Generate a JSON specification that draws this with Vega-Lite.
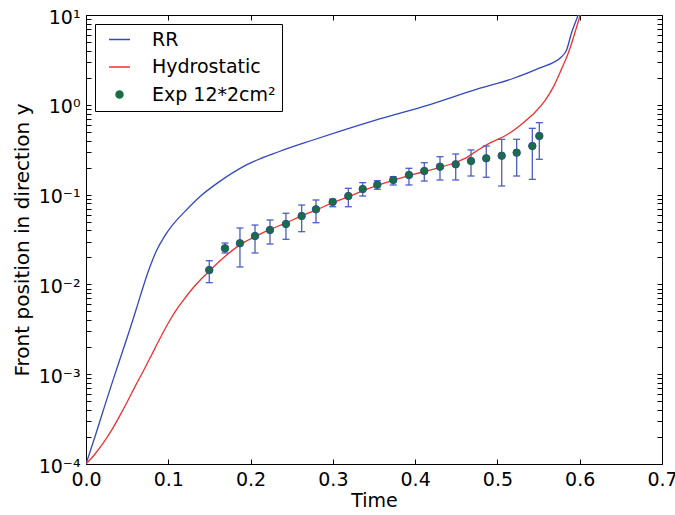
{
  "$schema": "https://vega.github.io/schema/vega-lite/v6.json",
  "width": 576,
  "height": 449,
  "autosize": {"type": "none"},
  "padding": {"left": 86, "top": 15, "right": 13, "bottom": 51},
  "background": "white",
  "config": {
    "view": {"stroke": null},
    "font": "DejaVu Sans",
    "axis": {
      "grid": false,
      "domainColor": "black",
      "domainWidth": 1,
      "tickColor": "black",
      "tickWidth": 1,
      "labelColor": "black",
      "labelFont": "DejaVu Sans",
      "labelFontSize": 19,
      "titleColor": "black",
      "titleFont": "DejaVu Sans",
      "titleFontWeight": "normal",
      "labelOverlap": false,
      "labelFlush": false
    },
    "legend": {
      "orient": "none",
      "legendX": 9,
      "legendY": 9,
      "strokeColor": "black",
      "fillColor": "white",
      "padding": 6,
      "cornerRadius": 0,
      "labelFont": "DejaVu Sans",
      "labelFontSize": 19,
      "labelColor": "black",
      "symbolSize": 49,
      "symbolStrokeWidth": 1.5,
      "symbolOffset": 9,
      "labelOffset": 23,
      "rowPadding": 7.5,
      "titleFontSize": 0
    }
  },
  "datasets": {
    "curves": [
      {"series": "RR", "t": 0, "y": 0.0001},
      {"series": "RR", "t": 0.01, "y": 0.00019},
      {"series": "RR", "t": 0.02, "y": 0.00037},
      {"series": "RR", "t": 0.033, "y": 0.00087},
      {"series": "RR", "t": 0.045, "y": 0.00186},
      {"series": "RR", "t": 0.0575, "y": 0.00417},
      {"series": "RR", "t": 0.0636, "y": 0.00631},
      {"series": "RR", "t": 0.0697, "y": 0.00955},
      {"series": "RR", "t": 0.0775, "y": 0.0155},
      {"series": "RR", "t": 0.0859, "y": 0.024},
      {"series": "RR", "t": 0.095, "y": 0.0339},
      {"series": "RR", "t": 0.106, "y": 0.0468},
      {"series": "RR", "t": 0.12, "y": 0.0646},
      {"series": "RR", "t": 0.14, "y": 0.0977},
      {"series": "RR", "t": 0.16, "y": 0.135},
      {"series": "RR", "t": 0.195, "y": 0.214},
      {"series": "RR", "t": 0.235, "y": 0.302},
      {"series": "RR", "t": 0.275, "y": 0.403},
      {"series": "RR", "t": 0.31, "y": 0.513},
      {"series": "RR", "t": 0.352, "y": 0.676},
      {"series": "RR", "t": 0.417, "y": 1.0},
      {"series": "RR", "t": 0.477, "y": 1.51},
      {"series": "RR", "t": 0.518, "y": 1.95},
      {"series": "RR", "t": 0.55, "y": 2.54},
      {"series": "RR", "t": 0.578, "y": 3.43},
      {"series": "RR", "t": 0.584, "y": 4.07},
      {"series": "RR", "t": 0.59, "y": 6.31},
      {"series": "RR", "t": 0.598, "y": 10},
      {"series": "RR", "t": 0.602, "y": 13.2},
      {"series": "Hydrostatic", "t": 0, "y": 0.0001},
      {"series": "Hydrostatic", "t": 0.01, "y": 0.000126},
      {"series": "Hydrostatic", "t": 0.02, "y": 0.000166},
      {"series": "Hydrostatic", "t": 0.03, "y": 0.000229},
      {"series": "Hydrostatic", "t": 0.04, "y": 0.000331},
      {"series": "Hydrostatic", "t": 0.05, "y": 0.00049},
      {"series": "Hydrostatic", "t": 0.06, "y": 0.000741},
      {"series": "Hydrostatic", "t": 0.07, "y": 0.0011},
      {"series": "Hydrostatic", "t": 0.08, "y": 0.00166},
      {"series": "Hydrostatic", "t": 0.09, "y": 0.00251},
      {"series": "Hydrostatic", "t": 0.1, "y": 0.00372},
      {"series": "Hydrostatic", "t": 0.11, "y": 0.00525},
      {"series": "Hydrostatic", "t": 0.118, "y": 0.00661},
      {"series": "Hydrostatic", "t": 0.13, "y": 0.00912},
      {"series": "Hydrostatic", "t": 0.14, "y": 0.01148},
      {"series": "Hydrostatic", "t": 0.15, "y": 0.01413},
      {"series": "Hydrostatic", "t": 0.165, "y": 0.01905},
      {"series": "Hydrostatic", "t": 0.187, "y": 0.02754},
      {"series": "Hydrostatic", "t": 0.205, "y": 0.03388},
      {"series": "Hydrostatic", "t": 0.223, "y": 0.04074},
      {"series": "Hydrostatic", "t": 0.242, "y": 0.04786},
      {"series": "Hydrostatic", "t": 0.261, "y": 0.05754},
      {"series": "Hydrostatic", "t": 0.28, "y": 0.06761},
      {"series": "Hydrostatic", "t": 0.3, "y": 0.08128},
      {"series": "Hydrostatic", "t": 0.32, "y": 0.0955},
      {"series": "Hydrostatic", "t": 0.344, "y": 0.1175},
      {"series": "Hydrostatic", "t": 0.37, "y": 0.1413},
      {"series": "Hydrostatic", "t": 0.4, "y": 0.1698},
      {"series": "Hydrostatic", "t": 0.425, "y": 0.195},
      {"series": "Hydrostatic", "t": 0.45, "y": 0.2291},
      {"series": "Hydrostatic", "t": 0.46, "y": 0.2512},
      {"series": "Hydrostatic", "t": 0.477, "y": 0.3162},
      {"series": "Hydrostatic", "t": 0.49, "y": 0.3715},
      {"series": "Hydrostatic", "t": 0.514, "y": 0.4786},
      {"series": "Hydrostatic", "t": 0.534, "y": 0.6607},
      {"series": "Hydrostatic", "t": 0.546, "y": 0.8318},
      {"series": "Hydrostatic", "t": 0.558, "y": 1.122},
      {"series": "Hydrostatic", "t": 0.568, "y": 1.585},
      {"series": "Hydrostatic", "t": 0.578, "y": 2.512},
      {"series": "Hydrostatic", "t": 0.585, "y": 3.548},
      {"series": "Hydrostatic", "t": 0.59, "y": 4.786},
      {"series": "Hydrostatic", "t": 0.596, "y": 7.244},
      {"series": "Hydrostatic", "t": 0.6, "y": 9.55},
      {"series": "Hydrostatic", "t": 0.604, "y": 12.59}
    ],
    "exp": [
      {"series": "Exp 12*2cm²", "t": 0.1498, "y": 0.01445, "lo": 0.01045, "hi": 0.01837},
      {"series": "Exp 12*2cm²", "t": 0.1689, "y": 0.02523, "lo": 0.02239, "hi": 0.0289},
      {"series": "Exp 12*2cm²", "t": 0.1871, "y": 0.02871, "lo": 0.01563, "hi": 0.04246},
      {"series": "Exp 12*2cm²", "t": 0.2054, "y": 0.0346, "lo": 0.02239, "hi": 0.04581},
      {"series": "Exp 12*2cm²", "t": 0.2236, "y": 0.04036, "lo": 0.02818, "hi": 0.05212},
      {"series": "Exp 12*2cm²", "t": 0.243, "y": 0.0471, "lo": 0.03177, "hi": 0.06194},
      {"series": "Exp 12*2cm²", "t": 0.2621, "y": 0.05781, "lo": 0.03864, "hi": 0.07656},
      {"series": "Exp 12*2cm²", "t": 0.2795, "y": 0.06855, "lo": 0.04864, "hi": 0.0871},
      {"series": "Exp 12*2cm²", "t": 0.2998, "y": 0.08279, "lo": 0.07328, "hi": 0.08872},
      {"series": "Exp 12*2cm²", "t": 0.3188, "y": 0.09638, "lo": 0.07328, "hi": 0.1175},
      {"series": "Exp 12*2cm²", "t": 0.3363, "y": 0.1153, "lo": 0.09638, "hi": 0.1358},
      {"series": "Exp 12*2cm²", "t": 0.354, "y": 0.1288, "lo": 0.1146, "hi": 0.1429},
      {"series": "Exp 12*2cm²", "t": 0.3734, "y": 0.1455, "lo": 0.1279, "hi": 0.1583},
      {"series": "Exp 12*2cm²", "t": 0.3925, "y": 0.1652, "lo": 0.1279, "hi": 0.1963},
      {"series": "Exp 12*2cm²", "t": 0.4111, "y": 0.1832, "lo": 0.1416, "hi": 0.2265},
      {"series": "Exp 12*2cm²", "t": 0.4302, "y": 0.2046, "lo": 0.1455, "hi": 0.2642},
      {"series": "Exp 12*2cm²", "t": 0.4493, "y": 0.2175, "lo": 0.1455, "hi": 0.2831},
      {"series": "Exp 12*2cm²", "t": 0.4679, "y": 0.2366, "lo": 0.1611, "hi": 0.3141},
      {"series": "Exp 12*2cm²", "t": 0.4864, "y": 0.2535, "lo": 0.156, "hi": 0.3475},
      {"series": "Exp 12*2cm²", "t": 0.5052, "y": 0.271, "lo": 0.1247, "hi": 0.413},
      {"series": "Exp 12*2cm²", "t": 0.5234, "y": 0.2931, "lo": 0.1611, "hi": 0.413},
      {"series": "Exp 12*2cm²", "t": 0.5424, "y": 0.3475, "lo": 0.1479, "hi": 0.547},
      {"series": "Exp 12*2cm²", "t": 0.5509, "y": 0.4498, "lo": 0.2472, "hi": 0.6324}
    ]
  },
  "layer": [
    {
      "data": {"name": "curves"},
      "mark": {"type": "line", "strokeWidth": 1.3, "clip": true, "interpolate": "monotone"},
      "encoding": {
        "x": {
          "field": "t", "type": "quantitative",
          "scale": {"domain": [0, 0.7], "nice": false, "zero": false},
          "axis": {
            "orient": "bottom",
            "values": [0, 0.1, 0.2, 0.3, 0.4, 0.5, 0.6, 0.7],
            "format": ".1f",
            "title": "Time",
            "titleFontSize": 19,
            "titleBaseline": "alphabetic",
            "titleY": 42,
            "tickSize": -5,
            "labelPadding": 26,
            "labelBaseline": "alphabetic",
            "encode": {"ticks": {"y2": {"value": -5}}}
          }
        },
        "y": {
          "field": "y", "type": "quantitative",
          "scale": {"type": "log", "domain": [0.0001, 10], "nice": false},
          "axis": {
            "orient": "left",
            "values": [0.0001, 0.0002, 0.0003, 0.0004, 0.0005, 0.0006, 0.0007, 0.0008, 0.0009, 0.001, 0.002, 0.003, 0.004, 0.005, 0.006, 0.007, 0.008, 0.009, 0.01, 0.02, 0.03, 0.04, 0.05, 0.06, 0.07, 0.08, 0.09, 0.1, 0.2, 0.3, 0.4, 0.5, 0.6, 0.7, 0.8, 0.9, 1, 2, 3, 4, 5, 6, 7, 8, 9, 10],
            "labelExpr": "datum.value == 10 ? '10¹' : datum.value == 1 ? '10⁰' : datum.value == 0.1 ? '10⁻¹' : datum.value == 0.01 ? '10⁻²' : datum.value == 0.001 ? '10⁻³' : datum.value == 0.0001 ? '10⁻⁴' : ''",
            "title": "Front position in direction y",
            "titleFontSize": 20,
            "titleX": -64,
            "titleBaseline": "middle",
            "tickSize": -5,
            "labelPadding": 11,
            "labelBaseline": "middle",
            "labelOffset": 2,
            "encode": {"ticks": {"x2": {"condition": {"test": "abs(log(datum.value)/LN10 - round(log(datum.value)/LN10)) < 0.001", "value": 5}, "value": 2.5}}}
          }
        },
        "color": {
          "field": "series", "type": "nominal",
          "scale": {"domain": ["RR", "Hydrostatic", "Exp 12*2cm²"], "range": ["#3347c0", "#f03030", "#1a6e45"]},
          "legend": {"title": null}
        }
      }
    },
    {
      "data": {"name": "exp"},
      "mark": {"type": "rule", "color": "#4c5ec2", "strokeWidth": 1.3},
      "encoding": {
        "x": {
          "field": "t", "type": "quantitative",
          "scale": {"domain": [0, 0.7], "nice": false, "zero": false},
          "axis": {
            "orient": "top",
            "values": [0, 0.1, 0.2, 0.3, 0.4, 0.5, 0.6, 0.7],
            "labels": false,
            "title": null,
            "tickSize": -5,
            "encode": {"ticks": {"y2": {"value": 5}}}
          }
        },
        "y": {
          "field": "lo", "type": "quantitative",
          "scale": {"type": "log", "domain": [0.0001, 10], "nice": false},
          "axis": {
            "orient": "right",
            "values": [0.0001, 0.0002, 0.0003, 0.0004, 0.0005, 0.0006, 0.0007, 0.0008, 0.0009, 0.001, 0.002, 0.003, 0.004, 0.005, 0.006, 0.007, 0.008, 0.009, 0.01, 0.02, 0.03, 0.04, 0.05, 0.06, 0.07, 0.08, 0.09, 0.1, 0.2, 0.3, 0.4, 0.5, 0.6, 0.7, 0.8, 0.9, 1, 2, 3, 4, 5, 6, 7, 8, 9, 10],
            "labels": false,
            "title": null,
            "tickSize": -5,
            "encode": {"ticks": {"x2": {"condition": {"test": "abs(log(datum.value)/LN10 - round(log(datum.value)/LN10)) < 0.001", "value": -5}, "value": -2.5}}}
          }
        },
        "y2": {"field": "hi"}
      }
    },
    {
      "data": {"name": "exp"},
      "mark": {"type": "tick", "orient": "horizontal", "color": "#4c5ec2", "size": 7, "thickness": 1.3, "opacity": 1},
      "encoding": {
        "x": {"field": "t", "type": "quantitative", "axis": null},
        "y": {"field": "lo", "type": "quantitative", "axis": null}
      }
    },
    {
      "data": {"name": "exp"},
      "mark": {"type": "tick", "orient": "horizontal", "color": "#4c5ec2", "size": 7, "thickness": 1.3, "opacity": 1},
      "encoding": {
        "x": {"field": "t", "type": "quantitative", "axis": null},
        "y": {"field": "hi", "type": "quantitative", "axis": null}
      }
    },
    {
      "data": {"name": "exp"},
      "mark": {"type": "point", "filled": true, "size": 56, "stroke": "#2b4f8a", "strokeWidth": 1, "opacity": 1},
      "encoding": {
        "x": {"field": "t", "type": "quantitative", "axis": null},
        "y": {"field": "y", "type": "quantitative", "axis": null},
        "color": {"field": "series", "type": "nominal", "legend": {"title": null}},
        "shape": {
          "field": "series", "type": "nominal",
          "scale": {"domain": ["RR", "Hydrostatic", "Exp 12*2cm²"], "range": ["M-3,0L3,0", "M-3,0L3,0", "circle"]},
          "legend": {"title": null}
        }
      }
    }
  ],
  "resolve": {"axis": {"x": "independent", "y": "independent"}}
}
